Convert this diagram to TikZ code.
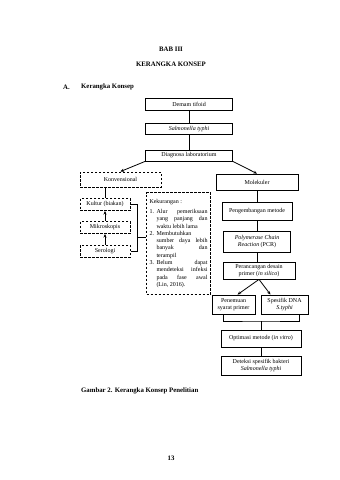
\documentclass[tikz,border=0pt]{standalone}
\usepackage{fontspec}
\setmainfont{Liberation Serif}
\usepackage{enumitem}
\usetikzlibrary{arrows.meta}

\begin{document}
\begin{tikzpicture}[x=1pt, y=-1pt,
    kotak/.style={draw, line width=0.8pt, align=center, inner sep=1pt, font=\fontsize{6}{7}\selectfont},
    putus/.style={kotak, line width=1pt, dash pattern=on 2.5pt off 1.5pt},
    judul/.style={font=\fontsize{6.8}{8}\selectfont\bfseries, inner sep=0pt},
    panah/.style={-{Stealth[length=3.5pt,width=3pt]}, line width=0.8pt},
    garis/.style={line width=0.8pt}]
    % Page
    \fill[white] (0,0) rectangle (340,480);
    \useasboundingbox (0,0) rectangle (340,480);

    % Headings
    \node[judul] (bab) at (171,49) {BAB III};
    \node[judul] (kerangka) at (171,64) {KERANGKA KONSEP};
    \node[judul, anchor=west] (subbab) at (63,87) {A.};
    \node[judul, anchor=west] (subjudul) at (81,87) {Kerangka Konsep};

    % Top chain
    \node[kotak, minimum width=87, minimum height=12] (demam) at (189,104) {Demam tifoid};
    \node[kotak, minimum width=87, minimum height=11] (salmonella) at (189,129) {\textit{Salmonella typhi}};
    \node[kotak, minimum width=87, minimum height=11] (diagnosa) at (189,155.5) {Diagnosa laboratorium};
    \draw[garis] (demam) -- (salmonella);
    \draw[garis] (salmonella) -- (diagnosa);

    % Conventional branch (dashed)
    \node[putus, minimum width=81, minimum height=15] (konvensional) at (120.5,179.5) {Konvensional};
    \node[putus, minimum width=50, minimum height=12] (kultur) at (105,204.5) {Kultur (biakan)};
    \node[putus, minimum width=50, minimum height=12] (mikroskopis) at (105,227.5) {Mikroskopis};
    \node[putus, minimum width=50, minimum height=12] (serologi) at (105,251) {Serologi};
    \draw[panah] (diagnosa.south west) -- (konvensional.north);
    \draw[garis] (konvensional.south -| kultur.north) -- (kultur.north);
    \draw[panah] (mikroskopis) -- (kultur);
    \draw[panah] (serologi) -- (mikroskopis);

    % Drawbacks
    \node[putus, anchor=north west, text width=58pt, minimum height=102pt, align=justify, inner sep=3pt,
          font=\fontsize{6}{7.3}\selectfont] (kekurangan) at (146,192) {Kekurangan :
      \begin{enumerate}[label=\arabic*., leftmargin=7pt, labelsep=2pt, labelwidth=5pt, align=left,
                        topsep=2.7pt, itemsep=0pt, parsep=0pt, partopsep=0pt]
        \item Alur pemeriksaan\linebreak yang panjang dan\linebreak waktu lebih lama
        \item Membutuhkan\linebreak sumber daya lebih\linebreak banyak dan\linebreak terampil
        \item Belum dapat\linebreak mendeteksi infeksi\linebreak pada fase awal\linebreak (Lin, 2016).
      \end{enumerate}};
    \draw[garis] (kultur.east) -- ++(7,0) |- (serologi.east);
    \coordinate (kurung) at (137,237);
    \draw[garis] (kurung) -- (kurung -| kekurangan.west);

    % Molecular branch
    \node[kotak, minimum width=82, minimum height=16] (molekuler) at (257,182) {Molekuler};
    \node[kotak, minimum width=70, minimum height=18] (pengembangan) at (257,211) {Pengembangan metode};
    \node[kotak, minimum width=67, minimum height=21] (pcr) at (257,241.5) {\textit{Polymerase Chain}\\\textit{Reaction} (PCR)};
    \node[kotak, minimum width=72, minimum height=17] (perancangan) at (259,270.5) {Perancangan desain\\primer (\textit{in silico})};
    \draw[panah] (diagnosa.south east) -- (molekuler.north);
    \draw[garis] (molekuler) -- (pengembangan);
    \draw[garis] (pengembangan) -- (pcr);
    \draw[garis] (pcr.south) -- (pcr.south |- perancangan.north);

    % Primer design
    \node[kotak, minimum width=43, minimum height=19] (penemuan) at (233.5,304.5) {Penemuan\\syarat primer};
    \node[kotak, minimum width=47, minimum height=19] (spesifik) at (284.5,304.5) {Spesifik DNA\\\textit{S.typhi}};
    \draw[panah] (perancangan.south) -- ([xshift=4pt]penemuan.north);
    \draw[panah] (perancangan.south) -- ([xshift=-14pt]spesifik.north);

    % Optimation and detection
    \node[kotak, minimum width=80, minimum height=17] (optimasi) at (261,338.5) {Optimasi metode (\textit{in vitro})};
    \node[kotak, minimum width=80, minimum height=19] (deteksi) at (261,365.5) {Deteksi spesifik bakteri\\\textit{Salmonella typhi}};
    \coordinate (gabung) at (261,321);
    \draw[garis] ([xshift=-10pt]penemuan.south) |- (gabung) -| ([xshift=15pt]spesifik.south);
    \draw[garis] (gabung) -- (optimasi.north);
    \draw[garis] (optimasi) -- (deteksi);

    % Caption and page number
    \node[judul, anchor=west] (gambar) at (81,391) {Gambar 2. Kerangka Konsep Penelitian};
    \node[judul] (halaman) at (171,458) {13};
\end{tikzpicture}
\end{document}
